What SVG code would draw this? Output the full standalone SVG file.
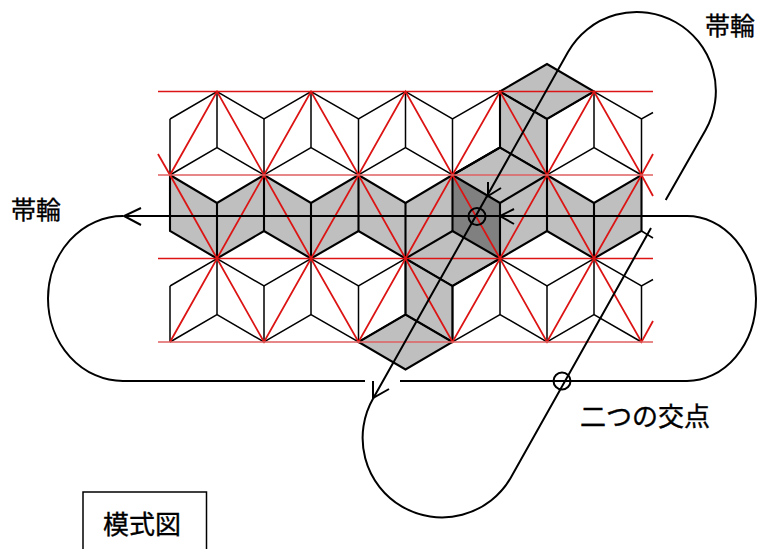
<svg xmlns="http://www.w3.org/2000/svg" xmlns:xlink="http://www.w3.org/1999/xlink" width="757" height="549" viewBox="0 0 757 549">
<style>
.thin{fill:none;stroke:#000;stroke-width:1.5;stroke-linejoin:miter}
.bold{fill:none;stroke:#000;stroke-width:2.1;stroke-linejoin:miter}
.red{fill:none;stroke:#dc1414;stroke-width:1.8}
.redh{fill:none;stroke:#dc1414;stroke-width:1.5}
.redl{fill:none;stroke:#e06060;stroke-width:1.7}
.belt{fill:none;stroke:#000;stroke-width:2}
.label{font-family:"Noto Sans CJK JP","Noto Sans CJK SC",sans-serif;font-size:25px;fill:#000;stroke:#000;stroke-width:.35}
</style>
<defs>
<g id="rowA">
<path class="thin" d="M170 119L217 91.5L264 119L311 91.5L358.5 119L405.5 91.5L452.5 119L500 91.5L547 119L594 91.5L641.5 119L653 112.5"/>
<path class="thin" d="M170 119V175M264 119V175M358.5 119V175M452.5 119V175M547 119V175M641.5 119V175"/>
<path class="thin" d="M217 91.5V147.5M311 91.5V147.5M405.5 91.5V147.5M500 91.5V147.5M594 91.5V147.5"/>
<path class="thin" d="M170 175L217 147.5L264 175L311 147.5L358.5 175L405.5 147.5L452.5 175L500 147.5L547 175L594 147.5L641.5 175"/>
</g>
<path id="redA" class="red" d="M170 175L217 91.5L264 175L311 91.5L358.5 175L405.5 91.5L452.5 175L500 91.5L547 175L594 91.5L641.5 175L653 154"/>
</defs>
<g id="gray-fill" fill="#bfbfbf">
<path d="M170 175L217 203L264 175L311 203L358.5 175L405.5 203L452.5 175L500 147.5L547 175L594 203L641.5 175V231L594 258.5L547 231L500 258.5L452.5 286V342L405.5 369.5L358.5 342L405.5 314.5V258.5L358.5 231L311 258.5L264 231L217 258.5L170 231Z"/>
<path d="M500 91.5L547 64L594 91.5L547 119V175L500 147.5Z"/>
<path d="M452.5 175L500 203V258.5L452.5 231Z" fill="#808080"/>
</g>
<g id="lattice">
<use xlink:href="#rowA" href="#rowA"/>
<use xlink:href="#rowA" href="#rowA" y="167"/>
<path class="thin" d="M641.5 231L653 238"/>
<path class="bold" d="M170 175L217 203L264 175L311 203L358.5 175L405.5 203L452.5 175L500 147.5L547 175L594 203L641.5 175V231L594 258.5L547 231L500 258.5L452.5 231L405.5 258.5L358.5 231L311 258.5L264 231L217 258.5L170 231Z"/>
<path class="bold" d="M264 175V231M358.5 175V231M452.5 175V231M547 175V231M217 203V258.5M311 203V258.5M405.5 203V258.5M500 203V258.5M594 203V258.5"/>
<path class="bold" d="M452.5 175L500 203L547 175M500 258.5L452.5 286M405.5 258.5L452.5 286V342L405.5 369.5L358.5 342L405.5 314.5L452.5 342M405.5 258.5V314.5"/>
<path class="bold" d="M500 91.5L547 64L594 91.5L547 119L500 91.5V147.5L452.5 175M547 119V175"/>
</g>
<g id="red-lines">
<use xlink:href="#redA" href="#redA"/>
<use xlink:href="#redA" href="#redA" y="167"/>
<path class="red" d="M158 154L170 175"/>
<path class="red" d="M170 175L217 258.5L264 175L311 258.5L358.5 175L405.5 258.5L452.5 175L500 258.5L547 175L594 258.5L641.5 175L653 196"/>
<path class="redh" d="M158 91.5H653M158 258.5H653"/>
<path class="redl" d="M158 175H653M158 342H653"/>
</g>
<g id="connectors">
<path class="belt" d="M125 216H687A69 82.5 0 0 1 687 381H400M365 381H123A75 82.5 0 0 1 123 216"/>
<path class="belt" d="M665.700 200L705.600 130A79 79 0 0 0 568 52L373.400 398"/>
<path class="belt" d="M373.400 398A79 79 0 0 0 510.600 478L651 228"/>
<path class="belt" d="M141 208L124 216L141 225M514 209L500 216L514 224M488 182L488 196L501 188M373 381L373 398L389 389"/>
<circle class="belt" cx="477" cy="216.500" r="8.500"/>
<circle class="belt" cx="562" cy="381" r="8.500"/>
</g>
<g id="labels">
<text class="label" x="11" y="219">帯輪</text>
<text class="label" x="705" y="35">帯輪</text>
<text class="label" x="580" y="426" style="font-size:26px">二つの交点</text>
<g id="legend">
<path class="thin" d="M83 549V492H206.500V549"/>
<text class="label" x="103" y="534" style="font-size:26px">模式図</text>
</g>
</g>
</svg>
